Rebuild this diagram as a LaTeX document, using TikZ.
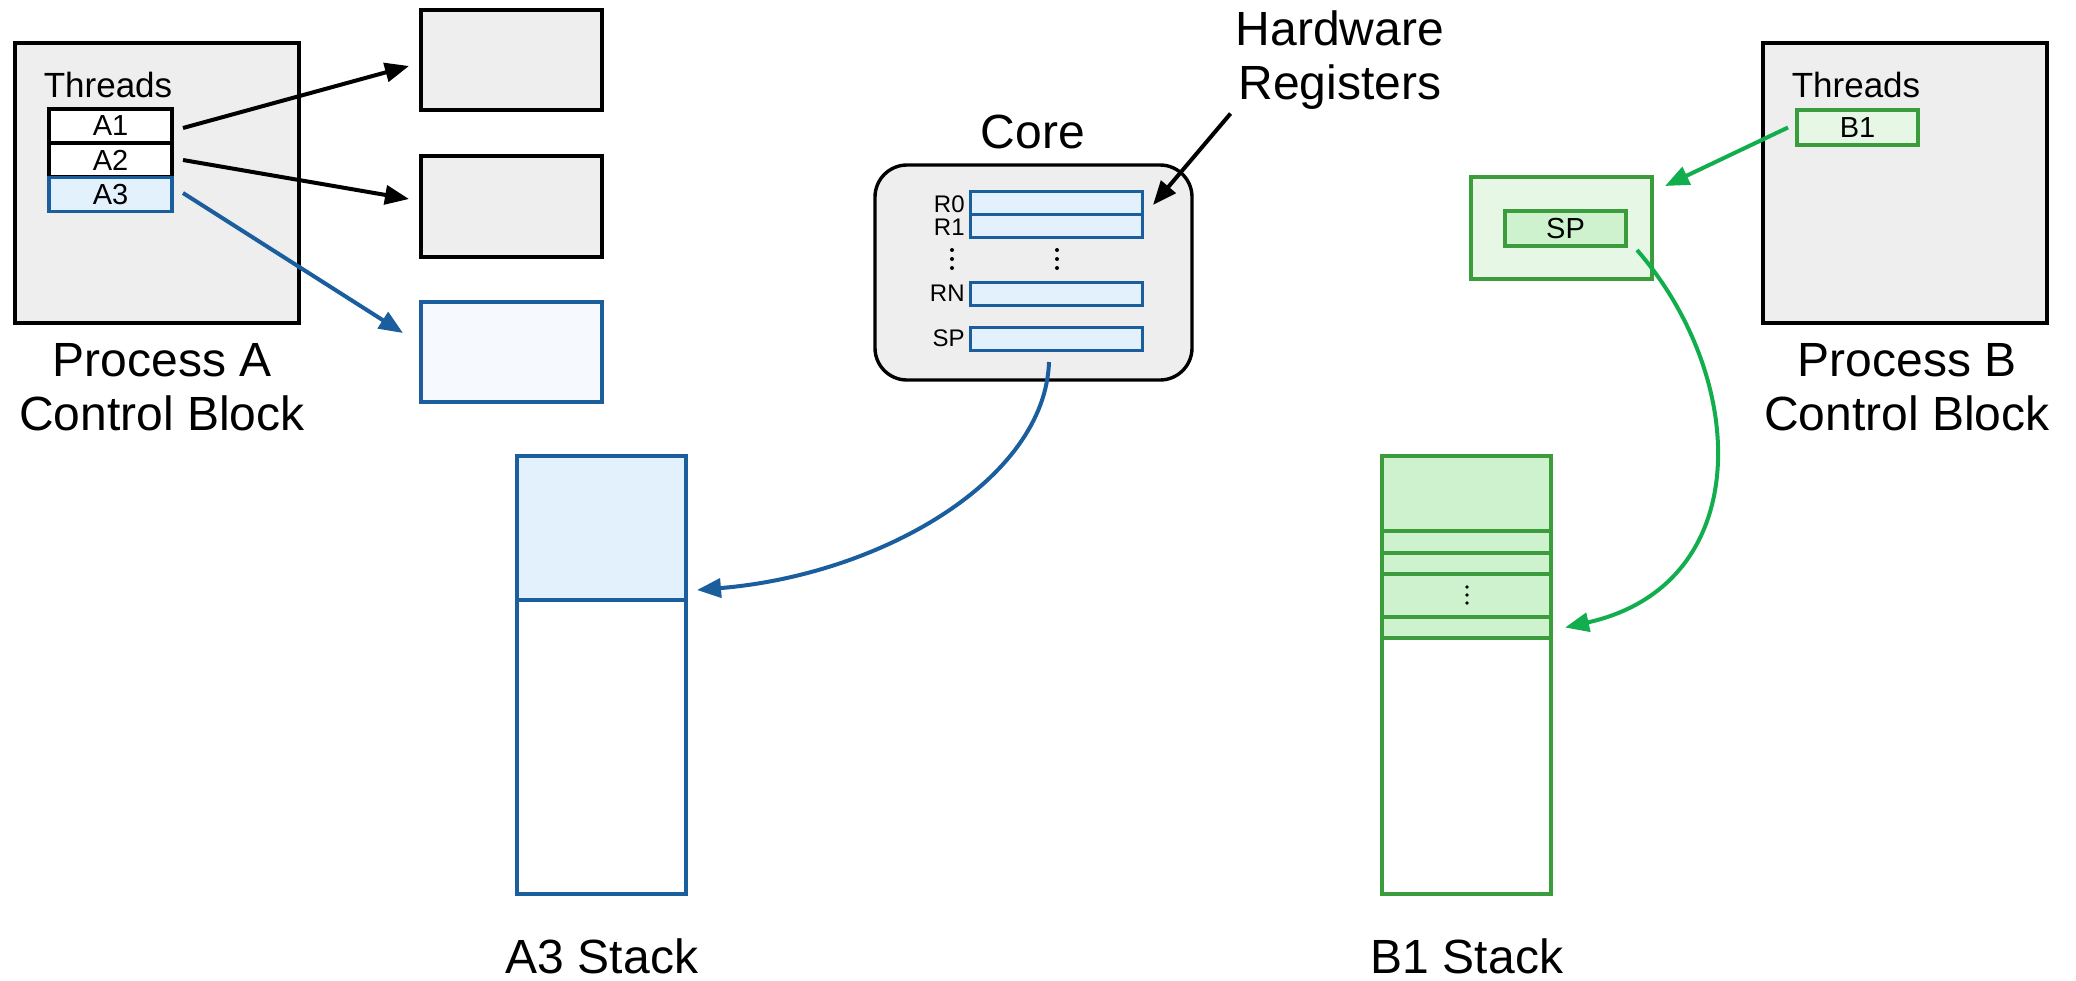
\documentclass[tikz,border=0pt]{standalone}
\usepackage{fontspec}
\setmainfont{Liberation Sans}
\usetikzlibrary{arrows.meta,calc}
\definecolor{grayfill}{HTML}{EEEEEE}
\definecolor{blueline}{HTML}{1B5E9E}
\definecolor{bluefill}{HTML}{E3F1FC}
\definecolor{bluepale}{HTML}{F6FAFE}
\definecolor{greenline}{HTML}{3B9C3B}
\definecolor{greenarrow}{HTML}{12AE4E}
\definecolor{greenpale}{HTML}{E6F7E6}
\definecolor{greenfill}{HTML}{CDF2CD}
\begin{document}
\begin{tikzpicture}[x=0.5pt,y=-0.5pt,
  box/.style={draw, line width=1.7pt, inner sep=0pt, outer sep=0pt},
  graybox/.style={box, fill=grayfill},
  bluebox/.style={box, draw=blueline},
  greenbox/.style={box, draw=greenline},
  thread/.style={box, line width=1.6pt, minimum width=61.5pt, minimum height=17pt, font=\fontsize{14.5pt}{14.5pt}\selectfont},
  reg/.style={bluebox, fill=bluefill, line width=1.5pt, minimum width=86pt, minimum height=11.5pt},
  reglabel/.style={anchor=east, inner sep=0pt, font=\fontsize{12pt}{12pt}\selectfont},
  biglabel/.style={inner sep=0pt, align=center, font=\fontsize{24pt}{27pt}\selectfont},
  threadslabel/.style={anchor=base, inner sep=0pt, font=\fontsize{17.5pt}{17.5pt}\selectfont},
  stackseg/.style={greenbox, fill=greenfill, minimum width=84.5pt},
  arrowline/.style={line width=2pt, -{Triangle[length=12pt,width=9.5pt]}},
  dotmark/.style={fill=black, draw=none},
]
\useasboundingbox (0,0) rectangle (2076,980);

% ---------- Process A ----------
\node[graybox, minimum width=142pt, minimum height=140pt] (pcbA) at (157,183) {};
\node[threadslabel] (thrA) at (108,97) {Threads};
\node[thread, fill=white] (A1) at (110.5,126) {A1};
\node[thread, fill=white] (A2) at (110.5,160) {A2};
\node[thread, draw=blueline, fill=bluefill] (A3) at (110.5,194.5) {A3};
\node[biglabel, anchor=north] (labA) at (162,343) {Process A\\Control Block};

\node[graybox, minimum width=90.5pt, minimum height=50pt] (ctxA1) at (511.5,60) {};
\node[graybox, minimum width=90.5pt, minimum height=50.5pt] (ctxA2) at (511.5,206.5) {};
\node[bluebox, fill=bluepale, minimum width=90.5pt, minimum height=50pt] (ctxA3) at (511.5,352) {};

\draw[arrowline] ($(A1.east)+(11,2)$) -- ($(ctxA1.west)+(-12,6)$);
\draw[arrowline] ($(A2.east)+(11,0)$) -- ($(ctxA2.west)+(-12,-7.5)$);
\draw[arrowline, blueline] ($(A3.east)+(11,-1.5)$) -- ($(ctxA3.west)+(-18,-19)$);

% ---------- Core ----------
\node[anchor=base, inner sep=0pt, font=\fontsize{24pt}{24pt}\selectfont] (corelab) at (1033,148) {Core};
\node[graybox, rounded corners=16pt, minimum width=158.5pt, minimum height=107.5pt] (core) at (1033.5,272.5) {};
\node[reg] (rR0) at (1056,202.5) {};
\node[reg] (rR1) at (1056,225.5) {};
\node[reg] (rRN) at (1056,293.5) {};
\node[reg] (rSP) at (1056,338.5) {};
\node[reglabel] (lR0) at (965,204.5) {R0};
\node[reglabel] (lR1) at (965,227) {R1};
\node[reglabel] (lRN) at (965,293.5) {RN};
\node[reglabel] (lSP) at (965,338.5) {SP};
\foreach \yy in {250,259,268} {
  \fill[dotmark] (952,\yy) circle (2);
  \fill[dotmark] (1057,\yy) circle (2);
}

\node[biglabel, anchor=north] (hw) at (1340,10) {Hardware\\Registers};
\draw[arrowline] ($(hw.south west)+(-5,4)$) -- ($(rR0.north east)+(11,14)$);

% ---------- A3 stack ----------
\node[bluebox, fill=bluefill, minimum width=84.5pt, minimum height=72pt] (a3top) at (601.5,528) {};
\node[bluebox, fill=white, minimum width=84.5pt, minimum height=147pt] (a3bot) at (601.5,747) {};
\node[anchor=base, inner sep=0pt, font=\fontsize{24pt}{24pt}\selectfont] (a3lab) at (602,973) {A3 Stack};
\draw[arrowline, blueline] ($(rSP.south)+(-7,12)$) .. controls (1045,480) and (880,575) .. ($(a3top.south east)+(11,-10)$);

% ---------- Process B ----------
\node[graybox, minimum width=142pt, minimum height=140pt] (pcbB) at (1905,183) {};
\node[threadslabel] (thrB) at (1856,97) {Threads};
\node[thread, draw=greenline, fill=greenpale, minimum width=60.5pt, minimum height=17.5pt] (B1) at (1857.5,127.5) {B1};
\node[biglabel, anchor=north] (labB) at (1907,343) {Process B\\Control Block};

\node[greenbox, fill=greenpale, minimum width=90.5pt, minimum height=51pt] (ctxB) at (1561.5,228) {};
\node[thread, draw=greenline, fill=greenfill, minimum width=60.5pt, minimum height=17.5pt] (spB) at (1565.5,228.5) {SP};

\draw[arrowline, greenarrow] ($(B1.west)+(-9,0)$) -- ($(ctxB.north east)+(13,9)$);

% ---------- B1 stack ----------
\node[greenbox, fill=white, minimum width=84.5pt, minimum height=219pt] (b1stack) at (1466.5,675) {};
\node[stackseg, minimum height=37.5pt] (b1s1) at (1466.5,493.5) {};
\node[stackseg, minimum height=11pt] (b1s2) at (1466.5,542) {};
\node[stackseg, minimum height=10.5pt] (b1s3) at (1466.5,563.5) {};
\node[stackseg, minimum height=21.5pt] (b1s4) at (1466.5,595.5) {};
\node[stackseg, minimum height=10.5pt] (b1s5) at (1466.5,627.5) {};
\foreach \yy in {587,595,603} {
  \fill[dotmark] (1467,\yy) circle (1.8);
}
\node[anchor=base, inner sep=0pt, font=\fontsize{24pt}{24pt}\selectfont] (b1lab) at (1467,973) {B1 Stack};

\draw[arrowline, greenarrow] ($(spB.south east)+(11,4)$) .. controls (1750,380) and (1755,585) .. ($(b1s5.east)+(14,0)$);
\end{tikzpicture}
\end{document}
